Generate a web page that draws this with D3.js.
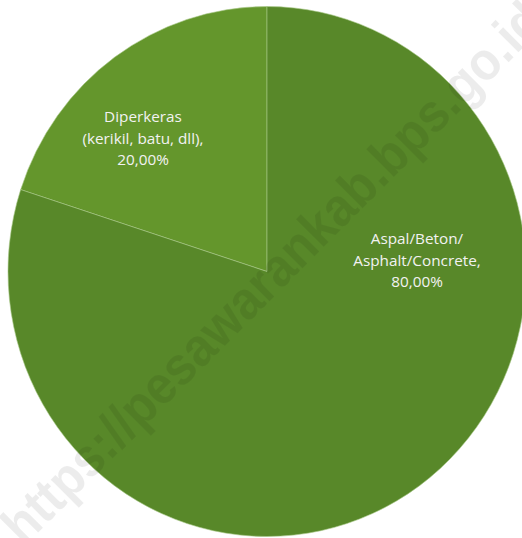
<!DOCTYPE html>
<html>
<head>
<meta charset="utf-8">
<script src="https://cdn.jsdelivr.net/npm/d3@7"></script>
<style>
  html, body { margin: 0; padding: 0; background: #fff; overflow: hidden; }
</style>
</head>
<body>
<script>
var w = 522
var h = 538

// data
var labels = [["Diperkeras", "(kerikil, batu, dll),", "20,00%"], ["Aspal/Beton/", "Asphalt/Concrete,", "80,00%"]]
var values = [20, 80]
var colors = ["#64962c", "#588829"]
var watermark = "https://pesawarankab.bps.go.id"

var cx = 267, cy = 271.5
var ry = 265, rx = 259

var svg = d3.select("body")
  .append("svg")
  .attr("width", w)
  .attr("height", h)

var pie = d3.pie()
  .sort(null)
  .startAngle(-2 * Math.PI * 0.2)
  .endAngle(2 * Math.PI * 0.8)
  .value(function(d) { return d; })

var arc = d3.arc()
  .innerRadius(0)
  .outerRadius(ry)

var arcs = pie(values)

var g = svg.append("g")
  .attr("transform", "translate(" + cx + "," + cy + ") scale(" + (rx / ry) + ",1)")

g.selectAll("path")
  .data(arcs)
  .enter().append("path")
  .attr("d", arc)
  .attr("fill", function(d, i) { return colors[i]; })
  .attr("stroke", "#a9c98a")
  .attr("stroke-width", 0.6)
  .attr("vector-effect", "non-scaling-stroke")

// labels
var labelPos = [[143, 117], [417, 239]]
var lab = svg.selectAll("text.lab")
  .data(labels)
  .enter().append("text")
  .attr("class", "lab")
  .attr("text-anchor", "middle")
  .attr("font-family", "'Open Sans', 'Noto Sans', sans-serif")
  .attr("font-size", 15.3)
  .attr("fill", "#f2f2f2")

lab.each(function(d, i) {
  var t = d3.select(this)
  d.forEach(function(line, j) {
    t.append("tspan")
      .attr("x", labelPos[i][0])
      .attr("y", labelPos[i][1] + j * 21.5)
      .attr("dy", "0.35em")
      .text(line)
  })
})

// watermark
svg.append("text")
  .attr("transform", "translate(272,272) rotate(-45)")
  .attr("text-anchor", "middle")
  .attr("dy", "0.35em")
  .attr("font-family", "'Liberation Sans', Arial, sans-serif")
  .attr("font-weight", "bold")
  .attr("font-size", 54)
  .attr("textLength", 740)
  .attr("lengthAdjust", "spacingAndGlyphs")
  .attr("fill", "#000")
  .attr("fill-opacity", 0.075)
  .text(watermark)
</script>
</body>
</html>
